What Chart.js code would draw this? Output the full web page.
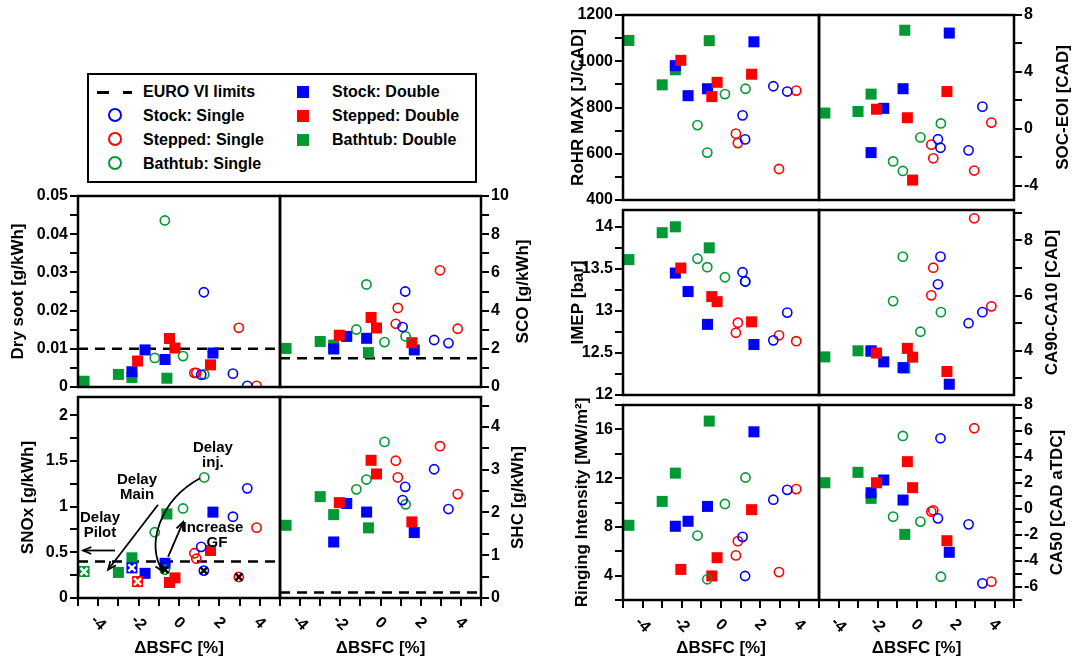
<!DOCTYPE html>
<html>
<head>
<meta charset="utf-8">
<script src="https://cdn.jsdelivr.net/npm/chart.js@4/dist/chart.umd.min.js"></script>
<style>
  html, body { margin: 0; padding: 0; background: #fff; }
  #page { position: relative; width: 1073px; height: 662px; overflow: hidden;
          font-family: "Liberation Sans", Arial, sans-serif; }
  .layer { position: absolute; left: 0; top: 0; width: 1073px; height: 662px; }
  #legend { position: absolute; left: 87px; top: 73px; width: 386px; height: 106px;
            border: 2px solid #000; background: #fff; font-weight: bold; font-size: 16px; color: #000; }
  #legend .txt { position: absolute; line-height: 20px; white-space: nowrap; }
  #legend .dash { position: absolute; height: 3px; background: #000; }
  #legend .circ { position: absolute; width: 10px; height: 10px; border: 2px solid; border-radius: 50%; }
  #legend .sq { position: absolute; width: 12px; height: 12px; }
</style>
</head>
<body>
<div id="page">
  <div id="legend">
    <div class="dash" style="left:8px; top:16px; width:12px"></div>
    <div class="dash" style="left:34px; top:16px; width:9px"></div>
    <div class="txt" style="left:54px; top:7px">EURO VI limits</div>
    <div class="circ" style="left:19px; top:33px; border-color:#0000ff"></div>
    <div class="txt" style="left:54px; top:31px">Stock: Single</div>
    <div class="circ" style="left:19px; top:57px; border-color:#ff0000"></div>
    <div class="txt" style="left:54px; top:55px">Stepped: Single</div>
    <div class="circ" style="left:19px; top:81px; border-color:#009933"></div>
    <div class="txt" style="left:54px; top:79px">Bathtub: Single</div>
    <div class="sq" style="left:208px; top:11px; background:#0000ff"></div>
    <div class="txt" style="left:243px; top:7px">Stock: Double</div>
    <div class="sq" style="left:208px; top:35px; background:#ff0000"></div>
    <div class="txt" style="left:243px; top:31px">Stepped: Double</div>
    <div class="sq" style="left:208px; top:59px; background:#009933"></div>
    <div class="txt" style="left:243px; top:55px">Bathtub: Double</div>
  </div>
</div>
<script>
// ΔBSFC [%] of each operating point, per injector / strategy
const bsfcStockSingle   = [1.10, 1.23, 2.67, 3.38];
const bsfcSteppedSingle = [0.76, 0.86, 2.96, 3.84];
const bsfcBathtubSingle = [-1.20, -0.70, 0.20, 1.25];
const bsfcStockDouble   = [-2.33, -1.68, -0.69, 1.68];
const bsfcSteppedDouble = [-2.05, -0.47, -0.20, 1.56];
const bsfcBathtubDouble = [-4.70, -3.00, -2.33, -0.60];

// measured quantities, same point order as above
const drySoot = {
  stockSingle:   [0.0032, 0.0248, 0.0035, 0.0003],
  steppedSingle: [0.0037, 0.0037, 0.0155, 0.0003],
  bathtubSingle: [0.0076, 0.0436, 0.0081, 0.0033],
  stockDouble:   [0.0040, 0.0097, 0.0072, 0.0089],
  steppedDouble: [0.0068, 0.0127, 0.0102, 0.0058],
  bathtubDouble: [0.0015, 0.0033, 0.0025, 0.0023]
};
const sco = {
  stockSingle:   [3.14, 5.00, 2.46, 2.30],
  steppedSingle: [3.31, 4.14, 6.11, 3.05],
  bathtubSingle: [3.01, 5.37, 2.35, 2.65],
  stockDouble:   [1.99, 2.65, 2.55, 1.94],
  steppedDouble: [2.71, 3.64, 3.09, 2.32],
  bathtubDouble: [2.02, 2.38, 2.19, 1.80]
};
const snox = {
  stockSingle:   [0.56, 0.30, 0.89, 1.20],
  steppedSingle: [0.49, 0.43, 0.23, 0.77],
  bathtubSingle: [0.72, 0.31, 0.98, 1.32],
  stockDouble:   [0.33, 0.27, 0.38, 0.94],
  steppedDouble: [0.18, 0.17, 0.22, 0.52],
  bathtubDouble: [0.29, 0.28, 0.44, 0.92]
};
const shc = {
  stockSingle:   [2.29, 2.60, 3.01, 2.08],
  steppedSingle: [3.21, 2.82, 3.55, 2.43],
  bathtubSingle: [2.54, 2.77, 3.65, 2.19],
  stockDouble:   [1.31, 2.21, 2.01, 1.53],
  steppedDouble: [2.23, 3.22, 2.90, 1.78],
  bathtubDouble: [1.70, 2.37, 1.95, 1.64]
};
const rohrMax = {
  stockSingle:   [766, 662, 892, 869],
  steppedSingle: [687, 646, 534, 873],
  bathtubSingle: [724, 605, 858, 881],
  stockDouble:   [981, 851, 881, 1084],
  steppedDouble: [1004, 847, 909, 944],
  bathtubDouble: [1090, 898, 963, 1089]
};
const socEoi = {
  stockSingle:   [-0.73, -1.33, -1.51, 1.56],
  steppedSingle: [-1.11, -2.07, -2.93, 0.44],
  bathtubSingle: [-2.29, -2.96, -0.60, 0.38],
  stockDouble:   [-1.67, 1.44, 2.82, 6.73],
  steppedDouble: [1.38, 0.78, -3.60, 2.62],
  bathtubDouble: [1.11, 1.22, 2.44, 6.93]
};
const imep = {
  stockSingle:   [13.46, 13.35, 12.65, 12.98],
  steppedSingle: [12.74, 12.86, 12.71, 12.64],
  bathtubSingle: [13.62, 13.52, 13.40, 13.35],
  stockDouble:   [13.45, 13.23, 12.84, 12.60],
  steppedDouble: [13.51, 13.17, 13.11, 12.87],
  bathtubDouble: [13.61, 13.93, 14.00, 13.75]
};
const ca90ca10 = {
  stockSingle:   [6.41, 7.41, 5.00, 5.40],
  steppedSingle: [6.01, 7.01, 8.80, 5.61],
  bathtubSingle: [5.80, 7.41, 4.69, 5.40],
  stockDouble:   [4.00, 3.60, 3.39, 2.79],
  steppedDouble: [3.92, 4.09, 3.77, 3.25],
  bathtubDouble: [3.78, 4.00, 3.98, 3.38]
};
const ringing = {
  stockSingle:   [7.18, 3.97, 10.23, 11.04],
  steppedSingle: [5.66, 6.83, 4.29, 11.10],
  bathtubSingle: [7.29, 3.70, 9.88, 12.05],
  stockDouble:   [8.05, 8.46, 9.68, 15.80],
  steppedDouble: [4.51, 3.97, 5.47, 9.41],
  bathtubDouble: [8.13, 10.09, 12.41, 16.68]
};
const ca50 = {
  stockSingle:   [-0.72, 5.44, -1.18, -5.72],
  steppedSingle: [-0.20, -0.10, 6.21, -5.59],
  bathtubSingle: [-0.59, 5.62, -0.97, -5.21],
  stockDouble:   [1.25, 2.23, 0.69, -3.33],
  steppedDouble: [2.02, 3.64, 1.64, -2.44],
  bathtubDouble: [2.02, 2.82, 0.82, -1.95]
};

// EURO VI limits [g/kWh]
const limitSoot = 0.01;
const limitCO = 1.5;
const limitNOx = 0.4;
const limitHC = 0.13;

// points marked with a cross in the NOx plot (index into each series)
const markedIdx = { stockSingle: 1, steppedSingle: 2, bathtubSingle: 1,
                    stockDouble: 0, steppedDouble: 0, bathtubDouble: 0 };

const xTickLabels = [-4, -2, 0, 2, 4];

const BLUE = '#0000ff', RED = '#ff0000', GREEN = '#009933';
const FONT = '"Liberation Sans", Arial, sans-serif';

// draw order: first entry ends up on top
const series = [
  { key: 'stockSingle',   x: bsfcStockSingle,   color: BLUE,  filled: false },
  { key: 'steppedSingle', x: bsfcSteppedSingle, color: RED,   filled: false },
  { key: 'bathtubSingle', x: bsfcBathtubSingle, color: GREEN, filled: false },
  { key: 'steppedDouble', x: bsfcSteppedDouble, color: RED,   filled: true },
  { key: 'stockDouble',   x: bsfcStockDouble,   color: BLUE,  filled: true },
  { key: 'bathtubDouble', x: bsfcBathtubDouble, color: GREEN, filled: true }
];

Chart.defaults.font.family = FONT;
Chart.defaults.font.weight = 'bold';
Chart.defaults.font.size = 16;
Chart.defaults.color = '#000';

function makeTicks(min, max, step) {
  const out = [];
  for (let v = Math.ceil(min / step - 1e-9) * step; v <= max + 1e-9; v += step) {
    out.push(Math.round(v * 1e6) / 1e6);
  }
  return out;
}

function yAxis(side, min, max, step, labelStep) {
  return {
    type: 'linear', position: side, min: min, max: max,
    afterBuildTicks: s => { s.ticks = makeTicks(min, max, step).map(v => ({ value: v })); },
    afterFit: s => { s.width = 50; },
    grid: { drawOnChartArea: false, tickLength: 8, color: '#000', lineWidth: 2 },
    border: { display: false },
    ticks: {
      color: '#000', padding: 2, autoSkip: false,
      font: { size: 16, weight: 'bold' },
      callback: v => {
        const r = v / labelStep;
        return Math.abs(r - Math.round(r)) < 1e-6 ? String(+v.toFixed(4)) : '';
      }
    }
  };
}

function xAxis(show) {
  return {
    type: 'linear', min: -5, max: 5, display: show,
    afterBuildTicks: s => { s.ticks = makeTicks(-5, 5, 1).map(v => ({ value: v })); },
    afterFit: s => { s.height = 10; },
    grid: { drawOnChartArea: false, tickLength: 8, color: '#000', lineWidth: 2 },
    border: { display: false },
    ticks: { display: false }
  };
}

// frame, axis titles and rotated x labels
const framePlugin = {
  id: 'frame',
  afterDatasetsDraw(chart, args, opts) {
    const { ctx, chartArea: a } = chart;
    ctx.save();
    ctx.lineWidth = 2.5;
    ctx.strokeStyle = '#000';
    ctx.strokeRect(a.left, a.top, a.right - a.left, a.bottom - a.top);
    ctx.fillStyle = '#000';
    ctx.textAlign = 'center';
    ctx.textBaseline = 'middle';
    ctx.font = 'bold 17px ' + FONT;
    ctx.save();
    ctx.translate(opts.titleX, (a.top + a.bottom) / 2);
    ctx.rotate(-Math.PI / 2);
    ctx.fillText(opts.title, 0, 0);
    ctx.restore();
    if (opts.xLabels) {
      const xs = chart.scales.x;
      ctx.font = 'bold 16px ' + FONT;
      xTickLabels.forEach(v => {
        ctx.save();
        ctx.translate(xs.getPixelForValue(v), a.bottom + 25);
        ctx.rotate(Math.PI / 4);
        ctx.fillText(String(v), 0, 0);
        ctx.restore();
      });
      ctx.font = 'bold 17px ' + FONT;
      ctx.fillText('ΔBSFC [%]', (a.left + a.right) / 2, 648);
    }
    ctx.restore();
  }
};

function arrowHead(ctx, fx, fy, tx, ty) {
  const ang = Math.atan2(ty - fy, tx - fx);
  const len = 9;
  ctx.beginPath();
  ctx.moveTo(tx - len * Math.cos(ang - 0.4), ty - len * Math.sin(ang - 0.4));
  ctx.lineTo(tx, ty);
  ctx.lineTo(tx - len * Math.cos(ang + 0.4), ty - len * Math.sin(ang + 0.4));
  ctx.stroke();
}

// arrows and notes on the NOx plot
const noxNotes = {
  id: 'noxNotes',
  afterDatasetsDraw(chart) {
    const { ctx, scales: { x, y } } = chart;
    const P = (a, b) => [x.getPixelForValue(a), y.getPixelForValue(b)];
    ctx.save();
    ctx.fillStyle = '#000';
    ctx.strokeStyle = '#000';
    ctx.lineWidth = 1.8;
    ctx.font = 'bold 15px ' + FONT;
    ctx.textAlign = 'center';
    ctx.textBaseline = 'middle';
    const text = (s, a, b) => { const p = P(a, b); ctx.fillText(s, p[0], p[1]); };
    text('Delay', 1.68, 1.64); text('inj.', 1.68, 1.48);
    text('Delay', -2.08, 1.29); text('Main', -2.08, 1.13);
    text('Delay', -3.91, 0.88); text('Pilot', -3.91, 0.71);
    text('Increase', 1.68, 0.77); text('GF', 1.88, 0.60);

    const line = (a, b) => {
      ctx.beginPath(); ctx.moveTo(a[0], a[1]); ctx.lineTo(b[0], b[1]); ctx.stroke();
      arrowHead(ctx, a[0], a[1], b[0], b[1]);
    };
    line(P(-3.17, 0.52), P(-4.75, 0.52));
    line(P(-1.04, 1.02), P(-3.51, 0.31));
    line(P(-0.54, 0.45), P(0.20, 0.83));
    const p0 = P(1.04, 1.31), c1 = P(-0.94, 1.07), c2 = P(-1.68, 0.58), p3 = P(-0.79, 0.29);
    ctx.beginPath();
    ctx.moveTo(p0[0], p0[1]);
    ctx.bezierCurveTo(c1[0], c1[1], c2[0], c2[1], p3[0], p3[1]);
    ctx.stroke();
    arrowHead(ctx, c2[0], c2[1], p3[0], p3[1]);
    ctx.restore();
  }
};

function buildDatasets(values, limit, crosses) {
  const ds = [];
  if (crosses) {
    series.forEach(s => {
      const i = markedIdx[s.key];
      ds.push({
        data: [{ x: s.x[i], y: values[s.key][i] }],
        pointStyle: 'crossRot', pointRadius: 5, borderWidth: 2.5,
        borderColor: s.filled ? '#fff' : '#000', backgroundColor: 'rgba(0,0,0,0)'
      });
    });
  }
  series.forEach(s => {
    ds.push({
      data: s.x.map((xv, i) => ({ x: xv, y: values[s.key][i] })),
      pointStyle: s.filled ? 'rect' : 'circle',
      pointRadius: s.filled ? 7.8 : 4.6,
      borderWidth: s.filled ? 0 : 1.6,
      borderColor: s.color,
      backgroundColor: s.filled ? s.color : 'rgba(0,0,0,0)'
    });
  });
  if (limit !== undefined) {
    ds.push({
      type: 'line', data: [{ x: -5, y: limit }, { x: 5, y: limit }],
      borderColor: '#000', borderWidth: 2.5, borderDash: [10, 7], pointRadius: 0
    });
  }
  return ds;
}

function panel(p) {
  const div = document.createElement('div');
  div.className = 'layer';
  const canvas = document.createElement('canvas');
  div.appendChild(canvas);
  document.getElementById('page').appendChild(div);
  const [l, t, r, b] = p.area;
  const pad = {
    left: p.side === 'left' ? l - 50 : l,
    right: p.side === 'right' ? 1073 - r - 50 : 1073 - r,
    top: t,
    bottom: p.xTicks ? 662 - b - 10 : 662 - b
  };
  new Chart(canvas, {
    type: 'scatter',
    data: { datasets: buildDatasets(p.values, p.limit, p.crosses) },
    options: {
      responsive: true, maintainAspectRatio: false, animation: false,
      layout: { padding: pad },
      scales: { x: xAxis(p.xTicks), y: yAxis(p.side, ...p.y) },
      plugins: {
        legend: { display: false }, tooltip: { enabled: false },
        frame: { title: p.title, titleX: p.titleX, xLabels: p.xTicks }
      }
    },
    plugins: p.crosses ? [framePlugin, noxNotes] : [framePlugin]
  });
}

panel({ values: drySoot, area: [78, 196, 280, 397], side: 'left', y: [0, 0.05, 0.005, 0.01],
        limit: limitSoot, title: 'Dry soot [g/kWh]', titleX: 18, xTicks: false });
panel({ values: sco, area: [280, 196, 481, 397], side: 'right', y: [0, 10, 1, 2],
        limit: limitCO, title: 'SCO [g/kWh]', titleX: 523, xTicks: false });
panel({ values: snox, area: [78, 397, 280, 598], side: 'left', y: [0, 2.2, 0.25, 0.5],
        limit: limitNOx, title: 'SNOx [g/kWh]', titleX: 28, xTicks: true, crosses: true });
panel({ values: shc, area: [280, 397, 481, 598], side: 'right', y: [0, 4.7, 0.5, 1],
        limit: limitHC, title: 'SHC [g/kWh]', titleX: 518, xTicks: true });
panel({ values: rohrMax, area: [623, 15, 819, 210], side: 'left', y: [400, 1200, 100, 200],
        title: 'RoHR MAX [J/CAD]', titleX: 578, xTicks: false });
panel({ values: socEoi, area: [819, 15, 1014, 210], side: 'right', y: [-5, 8, 2, 4],
        title: 'SOC-EOI [CAD]', titleX: 1063, xTicks: false });
panel({ values: imep, area: [623, 210, 819, 405], side: 'left', y: [12, 14.2, 0.25, 0.5],
        title: 'IMEP [bar]', titleX: 578, xTicks: false });
panel({ values: ca90ca10, area: [819, 210, 1014, 405], side: 'right', y: [2.4, 9.1, 1, 2],
        title: 'CA90-CA10 [CAD]', titleX: 1052, xTicks: false });
panel({ values: ringing, area: [623, 405, 819, 600], side: 'left', y: [2, 18, 2, 4],
        title: 'Ringing Intensity [MW/m²]', titleX: 582, xTicks: true });
panel({ values: ca50, area: [819, 405, 1014, 600], side: 'right', y: [-7, 8, 1, 2],
        title: 'CA50 [CAD aTDC]', titleX: 1057, xTicks: true });
</script>
</body>
</html>
